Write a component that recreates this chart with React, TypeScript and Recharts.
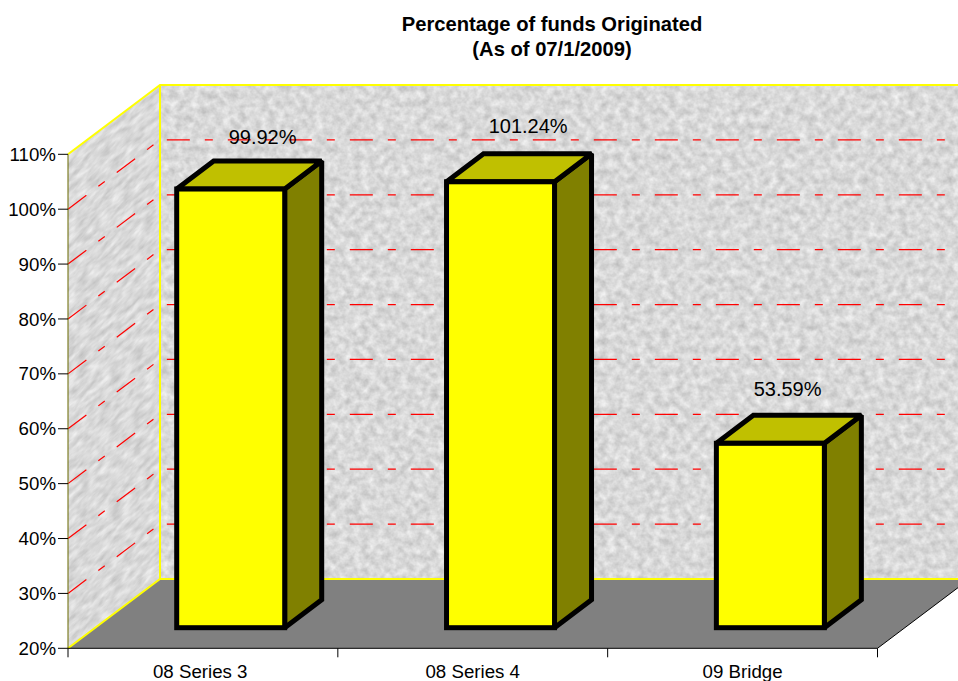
import { Bar, BarChart, Customized, LabelList, ReferenceLine, XAxis, YAxis } from "recharts";

const funds = ["08 Series 3", "08 Series 4", "09 Bridge"];
const originated = [99.92, 101.24, 53.59];
const percentTicks = [20, 30, 40, 50, 60, 70, 80, 90, 100, 110];
const gridTicks = [30, 40, 50, 60, 70, 80, 90, 100];

const chartRows = funds.map((fund, i) => ({ fund, originated: originated[i] }));

const FONT = '"Liberation Sans", Arial, sans-serif';

// plot box of the front plane
const LEFT = 68;
const RIGHT = 877.5;
const TOP = 154.3;
const BOTTOM = 648.3;

// how far the back wall sits behind the front plane
const WALL_DX = 92;
const WALL_DY = 69.3;

// bars stand partway into the floor and have their own depth
const BAR_SHIFT_X = 27.7;
const BAR_SHIFT_Y = 20.6;
const BAR_DX = 37;
const BAR_DY = 28;

// hand placement of text around the bars
const labelDx = [59.6, 55.3, 44.9];
const labelDy = [65.6, 69.1, 68];
const tickDx = [-2.7, 0, 0];

function Walls() {
  const backX = LEFT + WALL_DX;
  const backTop = TOP - WALL_DY;
  const backBottom = BOTTOM - WALL_DY;
  const farRight = RIGHT + WALL_DX;
  const wallHeight = BOTTOM - TOP;
  const yellow = { stroke: "#ffff00", strokeWidth: 2, fill: "none" };

  return (
    <g>
      <defs>
        <filter
          id="granite"
          filterUnits="userSpaceOnUse"
          x={backX}
          y={backTop}
          width={farRight - backX}
          height={wallHeight}
          colorInterpolationFilters="sRGB"
        >
          <feTurbulence type="fractalNoise" baseFrequency="0.13" numOctaves="3" seed="7" />
          <feColorMatrix
            type="matrix"
            values="0.26 0 0 0 0.72
                    0.26 0 0 0 0.72
                    0.26 0 0 0 0.72
                    0 0 0 0 1"
          />
        </filter>
        <filter
          id="graniteSide"
          filterUnits="userSpaceOnUse"
          x={LEFT}
          y={TOP}
          width={WALL_DX}
          height={wallHeight}
          colorInterpolationFilters="sRGB"
        >
          <feTurbulence type="fractalNoise" baseFrequency="0.09 0.16" numOctaves="3" seed="4" />
          <feColorMatrix
            type="matrix"
            values="0.24 0 0 0 0.73
                    0.24 0 0 0 0.73
                    0.24 0 0 0 0.73
                    0 0 0 0 1"
          />
        </filter>
      </defs>

      <rect x={backX} y={backTop} width={farRight - backX} height={wallHeight} filter="url(#granite)" />
      <rect
        x={LEFT}
        y={TOP}
        width={WALL_DX}
        height={wallHeight}
        transform={`matrix(1,${-WALL_DY / WALL_DX},0,1,0,${(LEFT * WALL_DY) / WALL_DX})`}
        filter="url(#graniteSide)"
      />
      <polygon
        points={`${LEFT},${BOTTOM} ${backX},${backBottom} ${farRight},${backBottom} ${RIGHT},${BOTTOM}`}
        fill="#808080"
      />
      <line x1={RIGHT} y1={BOTTOM} x2={farRight} y2={backBottom} stroke="#000" strokeWidth={1} />

      <polyline points={`${LEFT},${TOP} ${backX},${backTop} ${farRight},${backTop}`} {...yellow} />
      <polyline points={`${LEFT},${BOTTOM} ${backX},${backBottom} ${farRight},${backBottom}`} {...yellow} />
      <line x1={backX} y1={backTop} x2={backX} y2={backBottom} {...yellow} />

      <text x={552} y={30.5} textAnchor="middle" fontFamily={FONT} fontSize={20.2} fontWeight="bold" fill="#000">
        Percentage of funds Originated
      </text>
      <text x={552} y={55.5} textAnchor="middle" fontFamily={FONT} fontSize={20.2} fontWeight="bold" fill="#000">
        (As of 07/1/2009)
      </text>
    </g>
  );
}

// one gridline runs along the side wall and then across the back wall
function WallGridLine(props: any) {
  const x1 = LEFT;
  const y1 = props.y1;
  const bx = x1 + WALL_DX;
  const by = y1 - WALL_DY;
  return (
    <polyline
      points={`${x1},${y1} ${bx},${by} ${RIGHT + WALL_DX},${by}`}
      fill="none"
      stroke="#ff0000"
      strokeWidth={1.2}
      strokeDasharray="23 15 8 15"
    />
  );
}

function Box3D(props: any) {
  const { x, y, width, height } = props;
  const left = x + BAR_SHIFT_X;
  const right = left + width;
  const top = y - BAR_SHIFT_Y;
  const bottom = top + height;
  const edge = { stroke: "#000", strokeWidth: 5, strokeLinejoin: "miter" as const, strokeMiterlimit: 1.5 };

  return (
    <g>
      <polygon
        points={`${right},${top} ${right + BAR_DX},${top - BAR_DY} ${right + BAR_DX},${bottom - BAR_DY} ${right},${bottom}`}
        fill="#808000"
        {...edge}
      />
      <polygon
        points={`${left},${top} ${left + BAR_DX},${top - BAR_DY} ${right + BAR_DX},${top - BAR_DY} ${right},${top}`}
        fill="#c0c000"
        {...edge}
      />
      <rect x={left} y={top} width={width} height={height} fill="#ffff00" {...edge} />
    </g>
  );
}

function ValueLabel(props: any) {
  const { x, y, width, value, index } = props;
  return (
    <text
      x={x + width / 2 + labelDx[index]}
      y={y - labelDy[index]}
      textAnchor="middle"
      fontFamily={FONT}
      fontSize={20}
      fill="#000"
    >
      {`${Number(value).toFixed(2)}%`}
    </text>
  );
}

// ticks sit on the category boundaries, labels in between
function FundTick(props: any) {
  const { x, payload, index } = props;
  const half = (RIGHT - LEFT) / funds.length / 2;
  return (
    <g>
      <line x1={x - half} y1={BOTTOM} x2={x - half} y2={BOTTOM + 9} stroke="#000" />
      {index === funds.length - 1 && <line x1={x + half} y1={BOTTOM} x2={x + half} y2={BOTTOM + 9} stroke="#000" />}
      <text x={x + tickDx[index]} y={677.5} textAnchor="middle" fontFamily={FONT} fontSize={18.7} fill="#000">
        {payload.value}
      </text>
    </g>
  );
}

export default function App() {
  return (
    <div style={{ position: "absolute", left: 0, top: 0, width: 958, height: 681, overflow: "hidden", background: "#fff" }}>
      <BarChart
        width={958}
        height={681}
        data={chartRows}
        margin={{ top: TOP, left: 0, right: 958 - RIGHT, bottom: 0 }}
        barSize={108}
      >
        <Customized component={Walls} />
        {gridTicks.map((tick) => (
          <ReferenceLine key={tick} y={tick} shape={WallGridLine} ifOverflow="visible" zIndex={100} />
        ))}
        <XAxis
          dataKey="fund"
          height={681 - BOTTOM}
          axisLine={{ stroke: "#000", strokeWidth: 1 }}
          tickLine={false}
          tick={FundTick}
          interval={0}
        />
        <YAxis
          type="number"
          domain={[20, 110]}
          ticks={percentTicks}
          width={LEFT}
          interval={0}
          tickSize={10}
          tickMargin={2}
          axisLine={{ stroke: "#6b6b00", strokeWidth: 1 }}
          tickLine={{ stroke: "#000", strokeWidth: 1 }}
          tick={{ fill: "#000", fontSize: 18.7, fontFamily: FONT }}
          tickFormatter={(v: number) => `${v}%`}
        />
        <Bar dataKey="originated" shape={Box3D} isAnimationActive={false}>
          <LabelList dataKey="originated" content={ValueLabel} />
        </Bar>
      </BarChart>
    </div>
  );
}
